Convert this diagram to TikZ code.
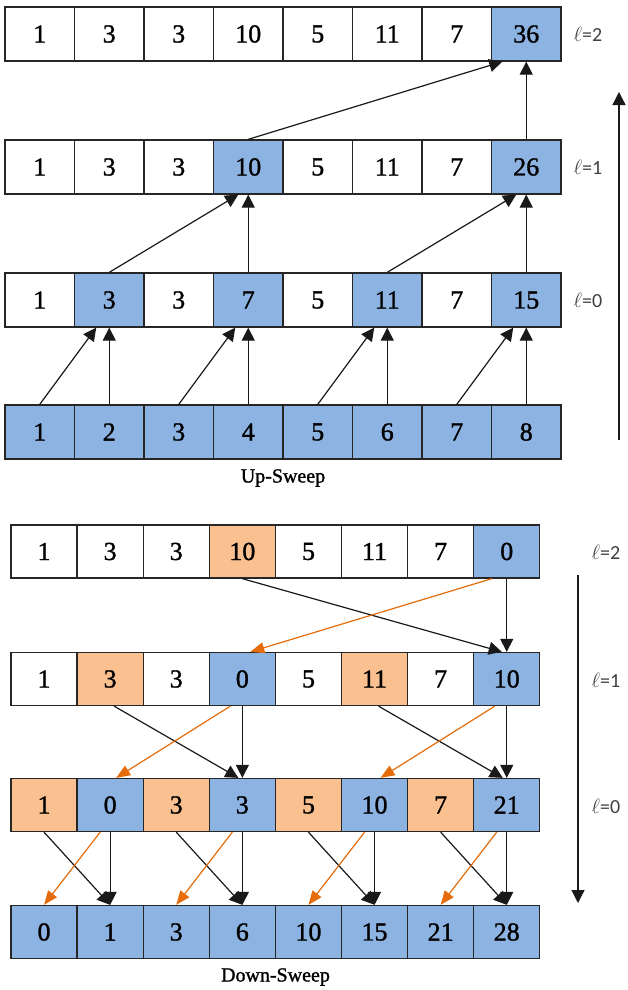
\documentclass[tikz,border=0pt]{standalone}
\usepackage{fontspec}
\setmainfont{Liberation Serif}
\newfontfamily\cellfont{Liberation Serif}[FakeBold=1.2]
\newfontfamily\lblfont{Carlito}
\usetikzlibrary{arrows.meta, calc}
\definecolor{cellblue}{HTML}{8DB3E2}
\definecolor{cellorange}{HTML}{FAC090}
\definecolor{arroworange}{HTML}{E46C0A}

\begin{document}
\begin{tikzpicture}[
x=1pt, y=-1pt,
    cell/.style={rectangle, draw=black!85, line width=1.3pt, inner sep=0pt, font=\cellfont\fontsize{26}{26}\selectfont},
    upcell/.style={cell, minimum width=69.5pt, minimum height=54pt},
    dncell/.style={cell, minimum width=66.1pt, minimum height=53pt},
    lvllabel/.style={font=\lblfont\fontsize{20}{20}\selectfont, text=black!75},
    caption/.style={font=\cellfont\fontsize{20}{20}\selectfont},
    line/.style={draw=black!90, line width=1.2pt, -{Triangle[length=13pt, width=13pt]}},
    orangearrow/.style={line, draw=arroworange, -{Triangle[length=14pt, width=11pt]}}
]
    \useasboundingbox (0,0) rectangle (627,990);

    % Up-Sweep arrays
    \foreach \v/\c [count=\i from 0] in {1/white, 3/white, 3/white, 10/white, 5/white, 11/white, 7/white, 36/cellblue}
        \node[upcell, fill=\c] (up2-\i) at ({39.75+69.5*\i}, 34) {\v};
    \foreach \v/\c [count=\i from 0] in {1/white, 3/white, 3/white, 10/cellblue, 5/white, 11/white, 7/white, 26/cellblue}
        \node[upcell, fill=\c] (up1-\i) at ({39.75+69.5*\i}, 167) {\v};
    \foreach \v/\c [count=\i from 0] in {1/white, 3/cellblue, 3/white, 7/cellblue, 5/white, 11/cellblue, 7/white, 15/cellblue}
        \node[upcell, fill=\c] (up0-\i) at ({39.75+69.5*\i}, 300) {\v};
    \foreach \v [count=\i from 0] in {1, 2, 3, 4, 5, 6, 7, 8}
        \node[upcell, fill=cellblue] (upin-\i) at ({39.75+69.5*\i}, 432) {\v};

    % Down-Sweep arrays
    \foreach \v/\c [count=\i from 0] in {1/white, 3/white, 3/white, 10/cellorange, 5/white, 11/white, 7/white, 0/cellblue}
        \node[dncell, fill=\c] (dn2-\i) at ({44.05+66.1*\i}, 551.5) {\v};
    \foreach \v/\c [count=\i from 0] in {1/white, 3/cellorange, 3/white, 0/cellblue, 5/white, 11/cellorange, 7/white, 10/cellblue}
        \node[dncell, fill=\c] (dn1-\i) at ({44.05+66.1*\i}, 679) {\v};
    \foreach \v/\c [count=\i from 0] in {1/cellorange, 0/cellblue, 3/cellorange, 3/cellblue, 5/cellorange, 10/cellblue, 7/cellorange, 21/cellblue}
        \node[dncell, fill=\c] (dn0-\i) at ({44.05+66.1*\i}, 805) {\v};
    \foreach \v [count=\i from 0] in {0, 1, 3, 6, 10, 15, 21, 28}
        \node[dncell, fill=cellblue] (dnout-\i) at ({44.05+66.1*\i}, 932) {\v};

    % Level labels and captions
    \node[lvllabel] (lu2) at (588, 34) {$\ell$=2};
    \node[lvllabel] (lu1) at (588, 167) {$\ell$=1};
    \node[lvllabel] (lu0) at (588, 300) {$\ell$=0};
    \node[lvllabel] (ld2) at (606, 552) {$\ell$=2};
    \node[lvllabel] (ld1) at (606, 680) {$\ell$=1};
    \node[lvllabel] (ld0) at (606, 806) {$\ell$=0};
    \node[caption] (upcap) at (283, 478) {Up-Sweep};
    \node[caption] (dncap) at (275.5, 977) {Down-Sweep};

    % Direction arrows
    \coordinate (upbot) at (619, 440);
    \coordinate (uptop) at (619, 92);
    \coordinate (dntop) at (578, 575);
    \coordinate (dnbot) at (578, 903);
    \draw[line] (upbot) -- (uptop);
    \draw[line] (dntop) -- (dnbot);

    % Up-Sweep edges
    \foreach \a/\b in {0/1, 2/3, 4/5, 6/7} {
        \draw[line] (upin-\a.north) -- ([xshift=-13]up0-\b.south);
        \draw[line] (upin-\b.north) -- (up0-\b.south);
    }
    \foreach \a/\b in {1/3, 5/7} {
        \draw[line] (up0-\a.north) -- ([xshift=-10]up1-\b.south);
        \draw[line] (up0-\b.north) -- (up1-\b.south);
    }
    \draw[line] (up1-3.north) -- ([xshift=-24]up2-7.south);
    \draw[line] (up1-7.north) -- (up2-7.south);

    % Down-Sweep edges
    \draw[line] (dn2-3.south) -- ([xshift=-5]dn1-7.north);
    \draw[line] (dn2-7.south) -- (dn1-7.north);
    \draw[orangearrow] ([xshift=-15]dn2-7.south) -- ([xshift=8]dn1-3.north);
    \foreach \a/\b in {1/3, 5/7} {
        \draw[line] ([xshift=4]dn1-\a.south) -- ([xshift=-4]dn0-\b.north);
        \draw[line] (dn1-\b.south) -- (dn0-\b.north);
        \draw[orangearrow] ([xshift=-12]dn1-\b.south) -- ([xshift=6]dn0-\a.north);
    }
    \foreach \a/\b in {0/1, 2/3, 4/5, 6/7} {
        \draw[line] (dn0-\a.south) -- (dnout-\b.north);
        \draw[line] (dn0-\b.south) -- (dnout-\b.north);
        \draw[orangearrow] ([xshift=-10]dn0-\b.south) -- (dnout-\a.north);
    }

\end{tikzpicture}
\end{document}
